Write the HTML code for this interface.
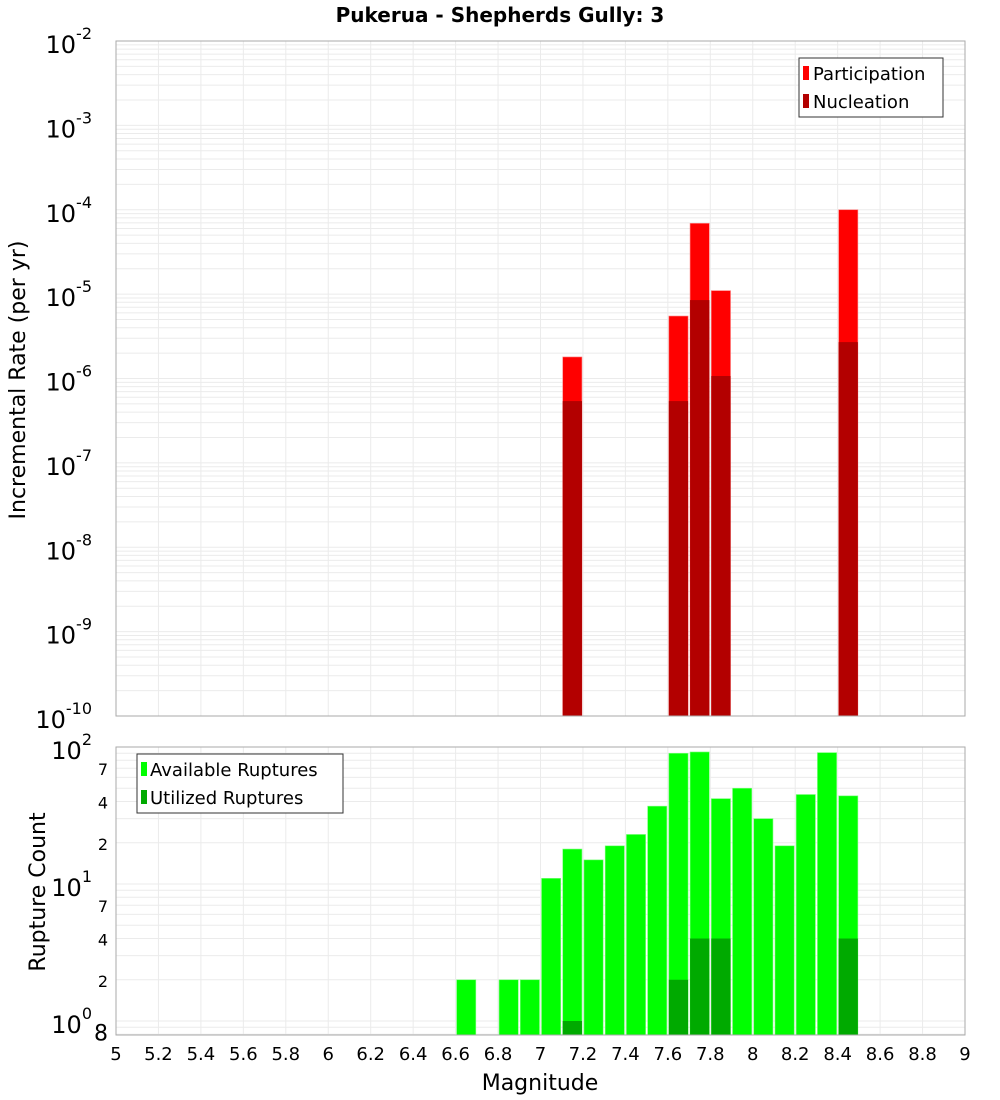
<!DOCTYPE html>
<html><head><meta charset="utf-8"><style>
body{margin:0;background:#fff;}
svg{display:block;font-family:"DejaVu Sans","Liberation Sans",sans-serif;}
</style></head><body>
<svg id="c" width="1000" height="1100"></svg>
<script>
const binCenters=[6.65,6.85,6.95,7.05,7.15,7.25,7.35,7.45,7.55,7.65,7.75,7.85,7.95,8.05,8.15,8.25,8.35,8.45];
const available=[2,2,2,11,18,15,19,23,37,90,92,42,50,30,19,45,91,44];
const utilized=[0,0,0,0,1,0,0,0,0,2,4,4,0,0,0,0,0,4];
const rateMags=[7.15,7.65,7.75,7.85,8.45];
const participation=[1.8e-6,5.5e-6,6.9e-5,1.1e-5,1.0e-4];
const nucleation=[5.4e-7,5.4e-7,8.5e-6,1.07e-6,2.7e-6];
const xTicks=[5,5.2,5.4,5.6,5.8,6,6.2,6.4,6.6,6.8,7,7.2,7.4,7.6,7.8,8,8.2,8.4,8.6,8.8,9];
const topDecades=[-10,-9,-8,-7,-6,-5,-4,-3,-2];
const botMinorLabels=[[0.8,"8"],[2,"2"],[4,"4"],[7,"7"],[20,"2"],[40,"4"],[70,"7"]];

const NS="http://www.w3.org/2000/svg";
const svg=document.getElementById('c');
function el(t,a,p){const e=document.createElementNS(NS,t);for(const k in a)e.setAttribute(k,a[k]);(p||svg).appendChild(e);return e;}
const L=116,R=965;
const X=m=>L+(m-5)/4*(R-L);
const T0=41,T1=716;
const yTop=v=>T0+(-2-Math.log10(v))*(T1-T0)/8;
const B0=747,B1=1035,dec=137;
const yBot=v=>Math.max(B0,Math.min(B1,B0+(2-Math.log10(v))*dec));

// title
const t=el('text',{x:500,y:22,'text-anchor':'middle','font-size':20,'font-weight':'bold'});

t.textContent='Pukerua - Shepherds Gully: 3';

function grid(y0,y1,yf,lo,hi,clip){
  const g=el('g',{stroke:'#ebebeb','stroke-width':1});
  
  for(let m=5;m<=9.001;m+=0.2){el('line',{x1:X(m),x2:X(m),y1:y0,y2:y1},g);}
  for(let d=lo;d<hi;d++)for(let k=1;k<10;k++){const v=k*Math.pow(10,d);const y=yf(v);if(y>=y0-0.5&&y<=y1+0.5)el('line',{x1:L,x2:R,y1:y,y2:y},g);}
}
// top panel
grid(T0,T1,yTop,-10,-2);
el('line',{x1:L,x2:R,y1:T0,y2:T0,stroke:'#ebebeb'});
const tb=el('g',{});

rateMags.forEach((m,i)=>{
  const x0=X(m-0.05)+1,w=X(m+0.05)-X(m-0.05)-2;
  let r=el('rect',{x:x0,y:yTop(participation[i]),width:w,height:T1-yTop(participation[i]),fill:'#ff0000',stroke:'#ff8080','stroke-width':0.6},tb);
  
  r=el('rect',{x:x0,y:yTop(nucleation[i]),width:w,height:T1-yTop(nucleation[i]),fill:'#b30000'},tb);
  
});
el('rect',{x:L,y:T0,width:R-L,height:T1-T0,fill:'none',stroke:'#aaa'});
topDecades.forEach(d=>{
  const y=yTop(Math.pow(10,d));
  const tx=el('text',{x:92,y:y+12,'text-anchor':'end','font-size':24});
  
  tx.textContent='10';
  const s=el('tspan',{'font-size':16,dy:-14},tx);s.textContent=String(d);
});
const yl=el('text',{transform:'translate(25,380) rotate(-90)','text-anchor':'middle','font-size':22});

yl.textContent='Incremental Rate (per yr)';
// top legend
const lg=el('g',{});
el('rect',{x:799,y:58,width:144,height:59,fill:'#fff',stroke:'#333'},lg);
el('rect',{x:803,y:66,width:6,height:14,fill:'#ff0000'},lg);
el('rect',{x:803,y:94,width:6,height:14,fill:'#b30000'},lg);
let tt=el('text',{x:813,y:80,'font-size':18},lg);tt.textContent='Participation';
tt=el('text',{x:813,y:108,'font-size':18},lg);tt.textContent='Nucleation';

// bottom panel
grid(B0,B1,yBot,-1,2);
const bb=el('g',{});
binCenters.forEach((m,i)=>{
  const x0=X(m-0.05)+1,w=X(m+0.05)-X(m-0.05)-2;
  if(available[i]>0){const r=el('rect',{x:x0,y:yBot(available[i]),width:w,height:B1-yBot(available[i]),fill:'#00ff00',stroke:'#80ff80','stroke-width':0.6},bb);
  }
  if(utilized[i]>0){const r=el('rect',{x:x0,y:yBot(utilized[i]),width:w,height:B1-yBot(utilized[i]),fill:'#00aa00'},bb);
  }
});
el('rect',{x:L,y:B0,width:R-L,height:B1-B0,fill:'none',stroke:'#aaa'});
[0,1,2].forEach(d=>{
  const y=yBot(Math.pow(10,d));
  const tx=el('text',{x:92,y:y+12,'text-anchor':'end','font-size':24});
  
  tx.textContent='10';
  const s=el('tspan',{'font-size':16,dy:-14},tx);s.textContent=String(d);
});
botMinorLabels.forEach(([v,s])=>{
  const tx=el('text',{x:108,y:yBot(v)+(v<1?6:7),'text-anchor':'end','font-size':v<1?22:16});
  
  tx.textContent=s;
});
const yl2=el('text',{transform:'translate(45,892) rotate(-90)','text-anchor':'middle','font-size':22});

yl2.textContent='Rupture Count';
const lg2=el('g',{});
el('rect',{x:137,y:754,width:206,height:59,fill:'#fff',stroke:'#333'},lg2);
el('rect',{x:141,y:762,width:6,height:14,fill:'#00ff00'},lg2);
el('rect',{x:141,y:790,width:6,height:14,fill:'#00aa00'},lg2);
tt=el('text',{x:150,y:776,'font-size':18},lg2);tt.textContent='Available Ruptures';
tt=el('text',{x:150,y:804,'font-size':18},lg2);tt.textContent='Utilized Ruptures';

xTicks.forEach(m=>{
  const tx=el('text',{x:X(m),y:1060,'text-anchor':'middle','font-size':18});
  
  tx.textContent=String(Math.round(m*10)/10);
});
const xl=el('text',{x:540,y:1090,'text-anchor':'middle','font-size':22});

xl.textContent='Magnitude';
</script>
</body></html>
